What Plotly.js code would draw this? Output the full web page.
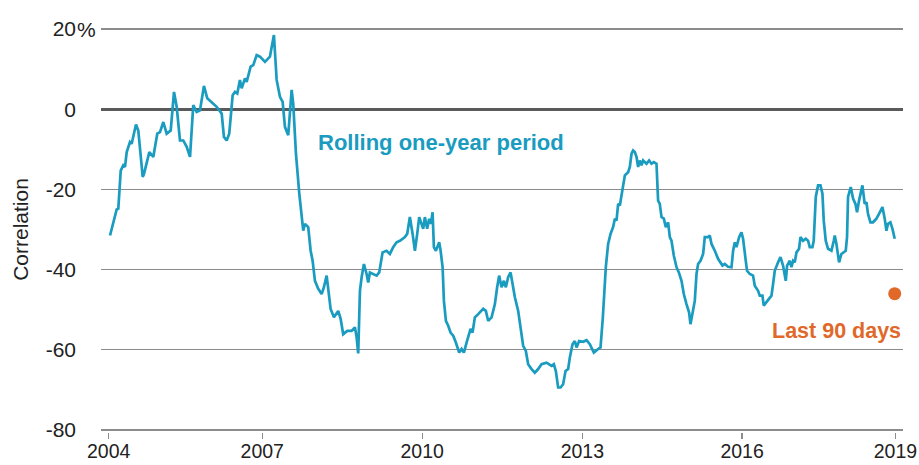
<!DOCTYPE html>
<html>
<head>
<meta charset="utf-8">
<script src="https://cdn.plot.ly/plotly-3.0.1.min.js"></script>
<style>html,body{margin:0;padding:0;background:#fff}#chart{width:919px;height:465px}</style>
</head>
<body>
<div id="chart"></div>
<script>
// Rolling one-year correlation (%), x in decimal years
const years = [
2004.025,2004.057,2004.152,2004.183,2004.229,2004.278,2004.311,2004.343,2004.406,2004.438,
2004.520,2004.564,2004.648,2004.673,2004.774,2004.850,2004.926,2004.978,2005.041,2005.105,
2005.182,2005.245,2005.296,2005.359,2005.422,2005.487,2005.550,2005.612,2005.677,2005.740,
2005.816,2005.879,2005.994,2006.058,2006.154,2006.197,2006.249,2006.298,2006.363,2006.407,
2006.451,2006.502,2006.535,2006.598,2006.630,2006.706,2006.756,2006.821,2006.884,2006.979,
2007.074,2007.150,2007.202,2007.265,2007.316,2007.360,2007.423,2007.488,2007.518,2007.570,
2007.633,2007.697,2007.709,2007.741,2007.804,2007.850,2007.888,2007.932,2007.995,2008.060,
2008.103,2008.155,2008.185,2008.231,2008.294,2008.376,2008.422,2008.471,2008.548,2008.631,
2008.694,2008.727,2008.757,2008.790,2008.822,2008.866,2008.917,2008.948,2008.980,2009.043,
2009.108,2009.157,2009.222,2009.298,2009.361,2009.424,2009.489,2009.552,2009.647,2009.691,
2009.742,2009.794,2009.838,2009.882,2009.920,2009.996,2010.028,2010.072,2010.110,2010.143,
2010.175,2010.200,2010.238,2010.301,2010.328,2010.366,2010.391,2010.429,2010.473,2010.518,
2010.568,2010.619,2010.682,2010.728,2010.772,2010.823,2010.873,2010.899,2010.937,2010.981,
2011.044,2011.140,2011.191,2011.235,2011.300,2011.363,2011.406,2011.444,2011.490,2011.534,
2011.572,2011.616,2011.662,2011.700,2011.744,2011.807,2011.852,2011.902,2011.953,2011.997,
2012.062,2012.124,2012.188,2012.253,2012.348,2012.443,2012.487,2012.525,2012.569,2012.615,
2012.664,2012.710,2012.760,2012.792,2012.843,2012.887,2012.920,2012.969,2013.045,2013.110,
2013.173,2013.250,2013.331,2013.377,2013.421,2013.478,2013.522,2013.568,2013.617,2013.650,
2013.682,2013.713,2013.745,2013.789,2013.841,2013.903,2013.936,2013.968,2013.998,2014.031,
2014.063,2014.094,2014.126,2014.158,2014.189,2014.254,2014.303,2014.349,2014.393,2014.444,
2014.475,2014.507,2014.540,2014.584,2014.622,2014.666,2014.698,2014.730,2014.774,2014.826,
2014.870,2014.921,2014.965,2015.016,2015.066,2015.092,2015.131,2015.174,2015.207,2015.237,
2015.283,2015.333,2015.365,2015.428,2015.460,2015.493,2015.556,2015.618,2015.702,2015.746,
2015.809,2015.874,2015.905,2015.937,2015.969,2016.019,2016.064,2016.095,2016.146,2016.171,
2016.223,2016.285,2016.318,2016.381,2016.413,2016.464,2016.489,2016.541,2016.590,2016.636,
2016.667,2016.699,2016.762,2016.808,2016.857,2016.909,2016.934,2016.985,2017.017,2017.048,
2017.080,2017.113,2017.162,2017.189,2017.238,2017.290,2017.334,2017.366,2017.417,2017.442,
2017.481,2017.525,2017.570,2017.608,2017.633,2017.671,2017.715,2017.780,2017.824,2017.843,
2017.875,2017.925,2017.970,2018.014,2018.052,2018.077,2018.096,2018.148,2018.192,2018.237,
2018.268,2018.306,2018.331,2018.370,2018.414,2018.447,2018.477,2018.523,2018.572,2018.637,
2018.687,2018.752,2018.795,2018.828,2018.858,2018.904,2018.942,2018.986
];
const correlation = [
-31.5,-29.8,-25.0,-24.8,-15.3,-14.0,-14.4,-10.7,-8.2,-8.6,
-3.8,-5.3,-16.9,-16.1,-10.7,-11.9,-6.1,-5.7,-3.2,-6.1,
-5.3,4.3,0.6,-7.8,-7.8,-9.4,-11.9,1.0,-0.7,-0.3,
5.8,2.7,1.4,0.6,-1.1,-6.9,-7.8,-6.1,3.5,4.3,
3.9,7.3,5.2,7.7,6.8,10.6,11.0,13.5,13.1,11.8,
13.1,18.5,7.3,3.1,1.8,-4.4,-6.5,4.8,1.4,-11.1,
-21.0,-27.8,-30.3,-28.6,-29.4,-35.3,-37.8,-42.8,-44.8,-46.1,
-44.4,-41.5,-44.4,-49.8,-51.9,-50.3,-52.3,-56.1,-55.3,-55.3,
-54.4,-56.9,-60.9,-45.3,-41.9,-38.6,-41.1,-43.2,-40.7,-41.1,
-41.5,-40.7,-35.7,-35.3,-36.1,-34.4,-33.2,-32.8,-31.9,-31.1,
-26.9,-31.1,-35.3,-31.1,-26.9,-29.8,-26.9,-29.8,-27.3,-28.6,
-25.7,-34.4,-35.3,-33.2,-35.3,-39.4,-47.8,-52.8,-54.0,-55.7,
-56.5,-58.2,-60.7,-59.8,-60.7,-58.2,-55.7,-54.8,-55.7,-51.9,
-51.1,-49.8,-50.3,-52.8,-51.9,-48.6,-44.4,-41.5,-44.4,-42.8,
-44.4,-41.9,-40.7,-43.6,-46.9,-50.3,-54.4,-59.0,-60.3,-63.6,
-64.8,-65.7,-64.8,-63.6,-63.2,-64.0,-63.6,-65.3,-69.4,-69.4,
-68.6,-65.3,-64.8,-61.9,-58.6,-57.8,-59.4,-57.8,-58.0,-57.6,
-58.6,-60.7,-59.8,-59.4,-52.0,-39.4,-33.6,-31.1,-29.4,-27.3,
-27.8,-23.6,-24.0,-20.3,-16.5,-15.7,-14.4,-11.1,-10.3,-10.7,
-11.9,-14.4,-12.8,-14.0,-12.8,-13.6,-12.8,-13.6,-13.2,-13.6,
-22.8,-23.6,-26.9,-27.3,-29.4,-28.2,-31.9,-32.8,-36.5,-39.4,
-40.7,-42.8,-46.1,-48.6,-50.7,-53.6,-50.7,-47.8,-41.1,-38.6,
-37.8,-36.1,-31.9,-31.9,-31.5,-33.6,-35.3,-37.3,-39.0,-38.6,
-39.3,-39.4,-35.3,-33.2,-34.4,-31.9,-30.7,-32.3,-37.8,-40.3,
-41.1,-41.5,-44.0,-45.3,-46.5,-46.5,-49.0,-48.2,-47.3,-46.5,
-43.6,-40.3,-38.2,-36.9,-39.0,-42.8,-39.0,-37.8,-39.4,-37.8,
-38.2,-35.7,-34.8,-31.9,-32.8,-32.3,-32.8,-34.4,-34.4,-32.8,
-21.9,-19.0,-19.0,-21.1,-27.8,-32.8,-34.8,-35.3,-32.8,-31.5,
-33.6,-38.2,-36.1,-35.7,-35.3,-31.9,-21.9,-19.4,-22.3,-23.6,
-25.7,-22.8,-21.1,-19.0,-23.6,-23.2,-26.1,-28.2,-28.2,-27.3,
-26.1,-24.4,-27.3,-30.3,-28.6,-28.2,-29.8,-32.3
];
// Last 90 days point
const last90Year = [2018.986];
const last90Value = [-46];

// Tick positions / labels
const xTickVals = [2004.0, 2006.927, 2009.977, 2013.030, 2016.076, 2019.0];
const xTickText = ['2004', '2007', '2010', '2013', '2016', '2019'];
const yTickVals = [-80, -60, -40, -20, 0, 20];
const yTickText = ['-80', '-60', '-40', '-20', '0', '20'];

const TEAL = '#1a9bc0';
const ORANGE = '#e0692a';
const FONT = 'Arial, "Liberation Sans", sans-serif';

const traces = [
  {x: years, y: correlation, type: 'scatter', mode: 'lines',
   line: {color: TEAL, width: 2.7}, hoverinfo: 'skip'},
  {x: last90Year, y: last90Value, type: 'scatter', mode: 'markers',
   marker: {color: ORANGE, size: 13}, hoverinfo: 'skip'}
];

const layout = {
  width: 919, height: 465,
  margin: {l: 101, r: 16, t: 27, b: 33},
  paper_bgcolor: '#fff', plot_bgcolor: '#fff',
  showlegend: false,
  font: {family: FONT, size: 21, color: '#222'},
  xaxis: {
    range: [2003.853, 2019.144],
    tickvals: xTickVals, ticktext: xTickText,
    ticks: 'outside', ticklen: 6, tickwidth: 1.3, tickcolor: '#8c8c8c',
    ticklabelstandoff: -4,
    showgrid: false, zeroline: false, showline: false,
    tickfont: {size: 19.5, color: '#222'}, fixedrange: true
  },
  yaxis: {
    range: [-80.5, 20.5],
    tickvals: yTickVals, ticktext: yTickText,
    ticks: '', ticklabelstandoff: 24,
    showgrid: true, gridcolor: '#8c8c8c', gridwidth: 1.3,
    zeroline: true, zerolinecolor: '#5a5a5a', zerolinewidth: 3,
    showline: false,
    tickfont: {size: 21, color: '#222'},
    title: {text: 'Correlation', font: {size: 21, color: '#222'}, standoff: 11},
    fixedrange: true
  },
  annotations: [
    {xref: 'x', yref: 'y', x: 2010.333, y: -8.2, text: '<b>Rolling one-year period</b>',
     showarrow: false, font: {size: 22, color: TEAL, family: FONT}, xanchor: 'center', yanchor: 'middle'},
    {xref: 'paper', yref: 'y', x: 1, y: -55.3, text: '<b>Last 90 days</b>',
     showarrow: false, font: {size: 21.5, color: ORANGE, family: FONT}, xanchor: 'right', yanchor: 'middle'},
    {xref: 'paper', yref: 'y', x: -0.033, y: 20, text: '%',
     showarrow: false, font: {size: 21, color: '#222', family: FONT}, xanchor: 'left', yanchor: 'middle'}
  ]
};

Plotly.newPlot('chart', traces, layout, {displayModeBar: false, staticPlot: true});
</script>
</body>
</html>
